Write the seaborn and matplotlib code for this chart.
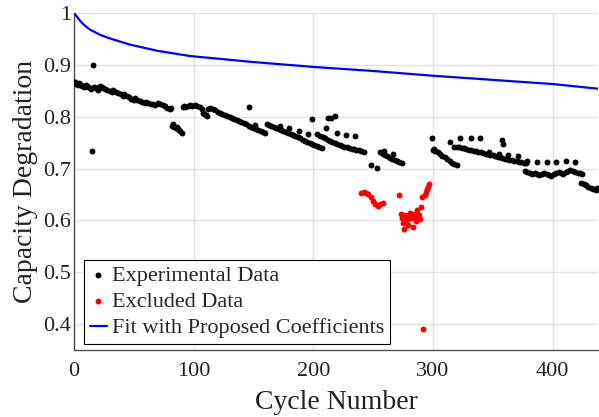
import matplotlib
matplotlib.use("Agg")
import matplotlib.pyplot as plt
import seaborn as sns
import pandas as pd

# ---------------- data ----------------
exp_cycle = [0, 1, 2, 3, 4, 5, 6, 7, 8, 9, 10, 11, 12, 13, 14, 15, 16, 17, 18, 19, 20,
             21, 22, 23, 24, 26, 28, 30, 32, 33, 35, 37, 39, 41, 42, 44, 46, 48, 50,
             51, 53, 55, 57, 59, 60, 62, 64, 66, 68, 70, 72, 74, 76, 78, 80, 81,
             82, 83, 84, 85, 86, 87, 88, 89, 90,
             91, 92, 93, 95, 97, 99, 101, 103, 105, 107, 108, 109, 110, 111, 112, 114, 116, 118, 120,
             122, 124, 126, 128, 130, 132, 134, 136, 138, 140, 142, 144, 146, 146, 148, 150, 151,
             152, 154, 156, 158, 160,
             161, 163, 165, 167, 169, 171, 173, 175, 177, 179, 181, 183, 185, 187, 189, 191, 193,
             195, 197, 199, 201, 203, 205, 207,
             172, 180, 188, 196, 199, 203, 211, 212, 215, 218, 220, 227, 235,
             206, 208, 210, 212, 214, 216, 218, 220, 222, 224, 226, 228, 230, 232, 234, 236, 238, 240, 242,
             248, 253,
             256, 258, 260, 262, 264, 266, 268, 270, 272, 274, 259, 267,
             299, 300, 301, 302, 304, 306, 308, 310, 312, 314, 316, 318, 320, 314, 318,
             320, 322, 324, 326, 328, 330, 332, 334, 336, 338, 340, 342, 344, 346, 348, 350, 352, 354,
             356, 358, 360, 362, 364, 366, 368, 370, 372, 374, 376, 378,
             323, 332, 339, 347, 355, 358, 359, 363, 371, 379,
             387, 395, 403, 411, 419,
             377, 379, 381, 383, 385, 387, 389, 391, 393, 395, 397, 399, 401, 403, 405, 407, 409, 411,
             413, 415, 417, 419, 421, 423, 425,
             424, 426, 428, 430, 432, 434, 436, 437]
exp_value = [0.867, 0.866, 0.864, 0.862, 0.865, 0.863, 0.861, 0.859, 0.857, 0.860, 0.862, 0.859, 0.857, 0.855, 0.853, 0.734, 0.900, 0.857, 0.855, 0.853, 0.851,
             0.857, 0.859, 0.857, 0.855, 0.853, 0.851, 0.849, 0.847, 0.851, 0.848, 0.846, 0.843, 0.840, 0.843, 0.840, 0.838, 0.835, 0.833,
             0.836, 0.833, 0.831, 0.829, 0.826, 0.829, 0.827, 0.825, 0.824, 0.823, 0.826, 0.824, 0.822, 0.820, 0.817, 0.815, 0.816,
             0.783, 0.785, 0.781, 0.779, 0.780, 0.776, 0.774, 0.772, 0.769,
             0.819, 0.821, 0.818, 0.820, 0.822, 0.820, 0.822, 0.820, 0.818, 0.814, 0.808, 0.806, 0.803, 0.801, 0.815, 0.817, 0.815, 0.812, 0.809,
             0.807, 0.805, 0.803, 0.801, 0.799, 0.797, 0.795, 0.794, 0.792, 0.789, 0.787, 0.785, 0.783, 0.819, 0.781, 0.779, 0.784,
             0.777, 0.775, 0.773, 0.771, 0.769,
             0.786, 0.784, 0.782, 0.780, 0.778, 0.776, 0.774, 0.772, 0.770, 0.768, 0.766, 0.764, 0.762, 0.760, 0.758, 0.756, 0.754,
             0.751, 0.749, 0.747, 0.745, 0.744, 0.742, 0.740,
             0.782, 0.778, 0.772, 0.767, 0.796, 0.767, 0.778, 0.797, 0.798, 0.801, 0.769, 0.764, 0.762,
             0.762, 0.760, 0.758, 0.755, 0.753, 0.751, 0.749, 0.747, 0.745, 0.743, 0.742, 0.741, 0.739, 0.738, 0.737, 0.736, 0.735, 0.733, 0.732,
             0.706, 0.702,
             0.731, 0.729, 0.727, 0.724, 0.721, 0.719, 0.717, 0.715, 0.713, 0.711, 0.733, 0.729,
             0.758, 0.735, 0.737, 0.733, 0.731, 0.728, 0.725, 0.722, 0.718, 0.714, 0.711, 0.709, 0.706, 0.751, 0.741,
             0.742, 0.741, 0.740, 0.739, 0.737, 0.736, 0.735, 0.734, 0.733, 0.732, 0.731, 0.730, 0.729, 0.728, 0.727, 0.726, 0.724, 0.723,
             0.722, 0.720, 0.719, 0.718, 0.717, 0.716, 0.715, 0.714, 0.713, 0.712, 0.711, 0.710,
             0.759, 0.759, 0.758, 0.731, 0.729, 0.756, 0.748, 0.727, 0.724, 0.715,
             0.713, 0.713, 0.713, 0.714, 0.713,
             0.695, 0.693, 0.691, 0.690, 0.692, 0.690, 0.688, 0.690, 0.692, 0.690, 0.688, 0.686, 0.689, 0.692, 0.694, 0.692, 0.690, 0.693,
             0.695, 0.697, 0.695, 0.694, 0.692, 0.691, 0.690,
             0.673, 0.671, 0.668, 0.665, 0.663, 0.661, 0.659, 0.662]

excl_cycle = [240, 242, 244, 246, 248, 250, 252, 254, 256, 258,
              272, 273, 274, 275, 276, 277, 278, 279, 280, 281, 282, 283, 284, 285, 286, 287, 288, 289, 290,
              291, 292, 293, 294, 295, 296, 297]
excl_value = [0.653, 0.654, 0.652, 0.650, 0.645, 0.638, 0.632, 0.628, 0.631, 0.633,
              0.648, 0.612, 0.605, 0.595, 0.583, 0.610, 0.600, 0.592, 0.608, 0.614, 0.605, 0.588, 0.612, 0.607, 0.598, 0.620, 0.610, 0.602, 0.625,
              0.645, 0.390, 0.648, 0.655, 0.660, 0.665, 0.671]

fit_cycle = [0, 1, 2.5, 4, 6.7, 9, 11.7, 14, 16.7, 21.7, 30, 46.8, 70, 97, 147, 200, 251, 300, 350, 400, 438]
fit_value = [1.000, 0.997, 0.993, 0.988, 0.981, 0.976, 0.971, 0.967, 0.964, 0.958, 0.951, 0.939, 0.927, 0.917, 0.906,
             0.896, 0.888, 0.879, 0.871, 0.863, 0.854]

x_ticks = [0, 100, 200, 300, 400]
y_ticks = [0.4, 0.5, 0.6, 0.7, 0.8, 0.9, 1.0]
y_tick_labels = ["0.4", "0.5", "0.6", "0.7", "0.8", "0.9", "1"]

exp_df = pd.DataFrame({"cycle": exp_cycle, "value": exp_value})
excl_df = pd.DataFrame({"cycle": excl_cycle, "value": excl_value})
fit_df = pd.DataFrame({"cycle": fit_cycle, "value": fit_value})

# ---------------- style ----------------
sns.set_style("white")
plt.rcParams["font.family"] = ["Liberation Serif", "DejaVu Serif"]

fig = plt.figure(figsize=(5.99, 4.17), dpi=100)
ax = fig.add_axes([74 / 599, 1 - 350 / 417, 524 / 599, 337 / 417])

sns.scatterplot(data=exp_df, x="cycle", y="value", ax=ax, color="black", s=18,
                linewidth=0, label="Experimental Data", zorder=3)
sns.scatterplot(data=excl_df, x="cycle", y="value", ax=ax, color="#ff0000", s=18,
                linewidth=0, label="Excluded Data", zorder=3)
sns.lineplot(data=fit_df, x="cycle", y="value", ax=ax, color="#0000ff", linewidth=1.6,
             label="Fit with Proposed Coefficients", zorder=4)

ax.set_xlim(0, 438)
ax.set_ylim(0.35, 1.0)
ax.set_xticks(x_ticks)
ax.set_yticks(y_ticks)
ax.set_yticklabels(y_tick_labels)
ax.grid(True, color="#e3e3e3", linewidth=1.0)
ax.set_axisbelow(True)

for side in ["top", "right"]:
    ax.spines[side].set_visible(False)
for side in ["left", "bottom"]:
    ax.spines[side].set_color("#4d4d4d")
    ax.spines[side].set_linewidth(1.0)

ax.tick_params(direction="in", length=4, width=0.8, color="#4d4d4d",
               labelsize=16, labelcolor="#222222")
ax.tick_params(axis="x", pad=9)
ax.tick_params(axis="y", pad=2)
ax.set_xlabel("Cycle Number", fontsize=20, color="#222222", labelpad=6)
ax.set_ylabel("Capacity Degradation", fontsize=20, color="#222222", labelpad=4)

leg = ax.legend(loc="lower left", bbox_to_anchor=(0.019, 0.018), borderaxespad=0,
                fontsize=16, frameon=True, fancybox=False, edgecolor="black",
                framealpha=1, handlelength=0.8, handletextpad=0.2, borderpad=0.25,
                labelspacing=0.25)
leg.get_frame().set_linewidth(0.8)

fig.savefig("out.png", dpi=100)
